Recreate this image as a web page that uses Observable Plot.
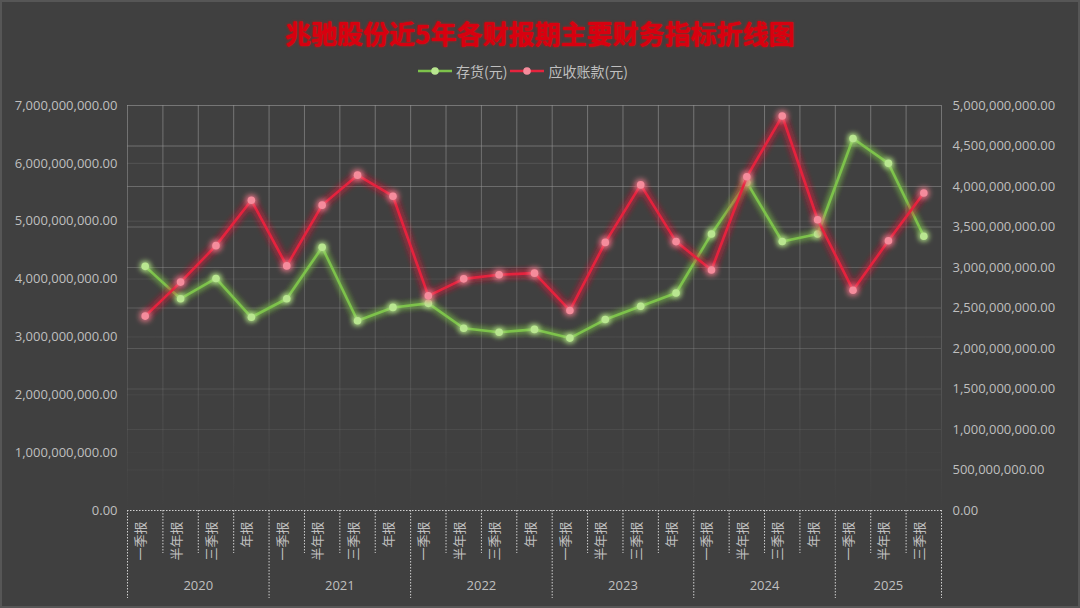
<!DOCTYPE html>
<html>
<head>
<meta charset="utf-8">
<script src="https://cdn.jsdelivr.net/npm/d3@7"></script>
<script src="https://cdn.jsdelivr.net/npm/@observablehq/plot@0.6"></script>
<style>
  html, body { margin: 0; padding: 0; background: #404040; }
  #wrap { position: relative; width: 1080px; height: 608px; overflow: hidden; background: #404040; box-shadow: inset 0 0 0 2px #565656; }
  #head { position: relative; height: 90px; }
  #title { position: absolute; left: 0; right: 0; top: 13px; text-align: center; font-family: "Noto Sans CJK SC", sans-serif; font-weight: 700; font-size: 26px; line-height: 40px; color: #d80010; text-shadow: 0 0 3px rgba(255,0,0,0.6), 0 0 1px rgba(255,0,0,0.8); }
  #legend { position: absolute; left: 418px; top: 61px; height: 20px; display: flex; align-items: center; font-family: "Noto Sans CJK SC", sans-serif; font-size: 14px; color: #bfbfbf; }
  #legend .item { display: flex; align-items: center; margin-right: 3px; }
  #legend svg { margin-right: 4px; }
</style>
</head>
<body>
<div id="wrap">
  <div id="head">
    <div id="title"></div>
    <div id="legend"></div>
  </div>
  <div id="chart"></div>
</div>
<script>
// ---------- data ----------
const titleText = "兆驰股份近5年各财报期主要财务指标折线图";
const seriesNames = ["存货(元)", "应收账款(元)"];
const periodLabels = [
  "一季报","半年报","三季报","年报",
  "一季报","半年报","三季报","年报",
  "一季报","半年报","三季报","年报",
  "一季报","半年报","三季报","年报",
  "一季报","半年报","三季报","年报",
  "一季报","半年报","三季报"
];
const years = ["2020","2021","2022","2023","2024","2025"];
const periodsPerYear = [4,4,4,4,4,3];
// 存货 (left axis)
const inventory = [
  4.22e9, 3.66e9, 4.01e9, 3.34e9,
  3.66e9, 4.55e9, 3.28e9, 3.51e9,
  3.58e9, 3.15e9, 3.08e9, 3.13e9,
  2.98e9, 3.30e9, 3.53e9, 3.76e9,
  4.78e9, 5.67e9, 4.65e9, 4.78e9,
  6.43e9, 6.00e9, 4.74e9
];
// 应收账款 (right axis)
const receivables = [
  2.40e9, 2.82e9, 3.27e9, 3.83e9,
  3.02e9, 3.77e9, 4.14e9, 3.88e9,
  2.65e9, 2.86e9, 2.91e9, 2.93e9,
  2.47e9, 3.31e9, 4.02e9, 3.32e9,
  2.97e9, 4.12e9, 4.87e9, 3.59e9,
  2.72e9, 3.33e9, 3.92e9
];
const leftTicks = [0, 1e9, 2e9, 3e9, 4e9, 5e9, 6e9, 7e9];
const rightTicks = [0, 0.5e9, 1e9, 1.5e9, 2e9, 2.5e9, 3e9, 3.5e9, 4e9, 4.5e9, 5e9];

// ---------- derived ----------
const leftMax = 7e9, rightMax = 5e9;
const ratio = leftMax / rightMax;
const rows = periodLabels.map((p, i) => ({ i, p, inv: inventory[i], rec: receivables[i] * ratio }));
const n = periodLabels.length;
const boundaries = d3.range(n + 1).map(k => k - 0.5);
const yearBounds = [-0.5];
let acc = 0;
const yearCenters = [];
periodsPerYear.forEach((c, j) => { yearCenters.push({ x: acc + (c - 1) / 2, t: years[j] }); acc += c; yearBounds.push(acc - 0.5); });
const innerBounds = boundaries.filter(b => !yearBounds.includes(b));
const fmt = d3.format(",.2f");

const green = "#7dc24b", greenDot = "#b9e690";
const red = "#e5233d", redDot = "#f58c9c";
const txt = "#bfbfbf";
const dotted = "#d0d0d0";
const latin = "'Open Sans', 'Noto Sans', sans-serif";
const cjk = "'Noto Sans CJK SC', sans-serif";

document.getElementById("title").textContent = titleText;
const legend = document.getElementById("legend");
[[green, greenDot], [red, redDot]].forEach(([c, d], k) => {
  const it = document.createElement("div");
  it.className = "item";
  it.innerHTML = `<svg width="34" height="12"><line x1="0" y1="6" x2="34" y2="6" stroke="${c}" stroke-width="2.5"/><circle cx="17" cy="6" r="3.8" fill="${d}"/></svg><span>${seriesNames[k]}</span>`;
  legend.appendChild(it);
});

const chart = Plot.plot({
  width: 1080,
  height: 518,
  marginTop: 15,
  marginBottom: 98,
  marginLeft: 127,
  marginRight: 139,
  style: { background: "transparent", color: txt, fontFamily: latin, fontSize: "13px" },
  x: { type: "linear", domain: [-0.5, n - 0.5], axis: null, label: null },
  y: { domain: [0, leftMax], axis: null, label: null },
  marks: [
    // grid
    Plot.ruleY(leftTicks.slice(1, -1), { stroke: "url(#gridFade)", strokeOpacity: 0.4 }),
    Plot.ruleY(rightTicks.slice(1).map(v => v * ratio), { stroke: "url(#gridFade)" }),
    Plot.ruleX(boundaries, { stroke: "url(#gridFade)" }),
    Plot.ruleY([0], { stroke: dotted, strokeDasharray: "1.5,1.5" }),
    // category axis separators
    Plot.axisX(innerBounds, { anchor: "bottom", tickSize: 43, tickFormat: () => "", stroke: dotted, strokeDasharray: "1.5,1.5", label: null }),
    Plot.axisX(yearBounds, { anchor: "bottom", tickSize: 88, tickFormat: () => "", stroke: dotted, strokeDasharray: "1.5,1.5", label: null }),
    Plot.text(rows, { x: "i", text: "p", frameAnchor: "bottom", dy: 11, rotate: -90, textAnchor: "end", fill: txt, fontSize: 13, fontFamily: cjk }),
    Plot.text(yearCenters, { x: "x", text: "t", frameAnchor: "bottom", dy: 79, fill: txt, fontSize: 13, fontFamily: latin }),
    // y axes
    Plot.axisY(leftTicks, { anchor: "left", tickSize: 0, tickPadding: 10, tickFormat: fmt, fill: txt, label: null }),
    Plot.axisY(rightTicks.map(v => v * ratio), { anchor: "right", tickSize: 0, tickPadding: 11, tickFormat: d => fmt(Math.round(d / ratio)), fill: txt, label: null }),
    // series
    Plot.line(rows, { x: "i", y: "inv", stroke: green, strokeWidth: 2.6 }),
    Plot.dot(rows, { x: "i", y: "inv", r: 3.8, fill: greenDot }),
    Plot.line(rows, { x: "i", y: "rec", stroke: red, strokeWidth: 2.6 }),
    Plot.dot(rows, { x: "i", y: "rec", r: 3.8, fill: redDot })
  ]
});
document.getElementById("chart").appendChild(chart);

const svg = d3.select(chart);
svg.insert("defs", ":first-child").html(`
  <linearGradient id="gridFade" gradientUnits="userSpaceOnUse" x1="0" y1="15" x2="0" y2="420">
    <stop offset="0" stop-color="#9a9a9a" stop-opacity="0.6"/>
    <stop offset="0.6" stop-color="#8a8a8a" stop-opacity="0.35"/>
    <stop offset="0.9" stop-color="#808080" stop-opacity="0.08"/>
    <stop offset="1" stop-color="#808080" stop-opacity="0"/>
  </linearGradient>
  <filter id="glowG" x="-10%" y="-30%" width="120%" height="160%">
    <feGaussianBlur in="SourceGraphic" stdDeviation="3.2" result="b"/>
    <feMerge><feMergeNode in="b"/><feMergeNode in="b"/><feMergeNode in="SourceGraphic"/></feMerge>
  </filter>
  <filter id="glowR" x="-10%" y="-30%" width="120%" height="160%">
    <feGaussianBlur in="SourceGraphic" stdDeviation="3.6" result="b"/>
    <feMerge><feMergeNode in="b"/><feMergeNode in="b"/><feMergeNode in="SourceGraphic"/></feMerge>
  </filter>`);
const lines = svg.selectAll('g[aria-label="line"]').nodes();
const dots = svg.selectAll('g[aria-label="dot"]').nodes();
if (lines[0]) lines[0].setAttribute("filter", "url(#glowG)");
if (dots[0]) dots[0].setAttribute("filter", "url(#glowG)");
if (lines[1]) lines[1].setAttribute("filter", "url(#glowR)");
if (dots[1]) dots[1].setAttribute("filter", "url(#glowR)");
</script>
</body>
</html>
